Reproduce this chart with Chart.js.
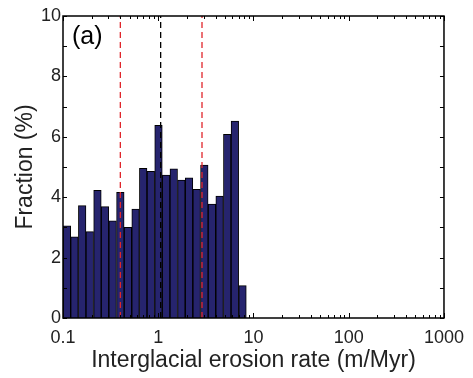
<!DOCTYPE html>
<html>
<head>
<meta charset="utf-8">
<script src="https://cdn.jsdelivr.net/npm/chart.js@4"></script>
<style>
  html, body { margin: 0; padding: 0; background: #fff; }
  #wrap { width: 473px; height: 378px; }
</style>
</head>
<body>
<div id="wrap"><canvas id="chart"></canvas></div>
<script>
// Bin centres (m/Myr), log-spaced bins from 0.1 to ~8.4
const binCentres = [0.110, 0.132, 0.159, 0.191, 0.230, 0.276, 0.332, 0.400,
                    0.481, 0.578, 0.695, 0.836, 1.006, 1.210, 1.455, 1.750,
                    2.105, 2.532, 3.046, 3.664, 4.407, 5.300, 6.375, 7.668];
// Fraction (%) per bin
const fractions = [3.05, 2.69, 3.72, 2.86, 4.23, 3.69, 3.22, 4.16,
                   3.00, 3.61, 4.96, 4.86, 6.38, 4.73, 4.94, 4.57,
                   4.64, 4.26, 5.06, 3.77, 4.04, 6.08, 6.52, 1.07];
// Dashed reference lines
const redLines = [0.40, 2.88];
const blackLine = 1.06;

const xTickLabels = [0.1, 1, 10, 100, 1000];
const yTickLabels = [0, 2, 4, 6, 8, 10];

const FONT = 'Liberation Sans, Arial, sans-serif';

// vertical dashed line dataset
function vline(x, color) {
    return {
        type: 'line',
        data: [{ x: x, y: 0 }, { x: x, y: 10 }],
        borderColor: color,
        borderWidth: 1.3,
        borderDash: [6, 4],
        pointRadius: 0,
        fill: false
    };
}

// MATLAB-ish box and inward ticks
const boxPlugin = {
    id: 'box',
    afterDatasetsDraw(chart) {
        const { ctx, chartArea: a, scales: { x, y } } = chart;
        ctx.save();
        ctx.strokeStyle = '#000';
        ctx.lineWidth = 1;
        ctx.beginPath();
        // x ticks (major + minor), bottom and top
        for (let d = 0.1; d <= 1000; d *= 10) {
            for (let m = 1; m <= 9; m++) {
                const v = d * m;
                if (v > 1000.001) break;
                const px = Math.round(x.getPixelForValue(v)) + 0.5;
                const len = m === 1 ? 5 : 3;
                ctx.moveTo(px, a.bottom); ctx.lineTo(px, a.bottom - len);
                ctx.moveTo(px, a.top); ctx.lineTo(px, a.top + len);
            }
        }
        // y ticks every 1
        for (let v = 0; v <= 10; v++) {
            const py = Math.round(y.getPixelForValue(v)) + 0.5;
            ctx.moveTo(a.left, py); ctx.lineTo(a.left + 4, py);
            ctx.moveTo(a.right, py); ctx.lineTo(a.right - 4, py);
        }
        ctx.stroke();
        ctx.lineWidth = 1.5;
        ctx.strokeRect(a.left, a.top, a.right - a.left, a.bottom - a.top);
        // panel label
        ctx.fillStyle = '#000';
        ctx.font = '25px ' + FONT;
        ctx.textBaseline = 'top';
        ctx.fillText('(a)', a.left + 9, a.top + 9);
        ctx.restore();
    }
};

new Chart(document.getElementById('chart'), {
    type: 'bar',
    data: {
        datasets: [
            {
                data: binCentres.map((c, i) => ({ x: c, y: fractions[i] })),
                backgroundColor: '#26246e',
                borderColor: '#000',
                borderWidth: 1,
                barPercentage: 1,
                categoryPercentage: 1,
                order: 2
            },
            Object.assign(vline(redLines[0], '#e0262b'), { order: 1 }),
            Object.assign(vline(blackLine, '#000'), { order: 1 }),
            Object.assign(vline(redLines[1], '#e0262b'), { order: 1 })
        ]
    },
    options: {
        responsive: true,
        maintainAspectRatio: false,
        animation: false,
        layout: { padding: { top: 16, right: 27, left: 0, bottom: 0 } },
        plugins: { legend: { display: false }, tooltip: { enabled: false } },
        scales: {
            x: {
                type: 'logarithmic',
                min: 0.1,
                max: 1000,
                offset: false,
                afterFit: s => { s.height = 60; },
                afterBuildTicks: s => { s.ticks = xTickLabels.map(v => ({ value: v })); },
                grid: { display: false, drawTicks: false },
                border: { display: false },
                ticks: {
                    autoSkip: false,
                    maxRotation: 0,
                    padding: 9,
                    color: '#222',
                    font: { family: FONT, size: 18 },
                    callback: v => String(v)
                },
                title: {
                    display: true,
                    text: 'Interglacial erosion rate (m/Myr)',
                    color: '#222',
                    font: { family: FONT, size: 23 },
                    padding: { top: 0, bottom: 4 }
                }
            },
            y: {
                min: 0,
                max: 10,
                afterFit: s => { s.width = 63; },
                afterBuildTicks: s => { s.ticks = yTickLabels.map(v => ({ value: v })); },
                grid: { display: false, drawTicks: false },
                border: { display: false },
                ticks: {
                    padding: 2,
                    color: '#222',
                    font: { family: FONT, size: 18 }
                },
                title: {
                    display: true,
                    text: 'Fraction (%)',
                    color: '#222',
                    font: { family: FONT, size: 23 },
                    padding: { top: 12, bottom: 2 }
                }
            }
        }
    },
    plugins: [boxPlugin]
});
</script>
</body>
</html>
